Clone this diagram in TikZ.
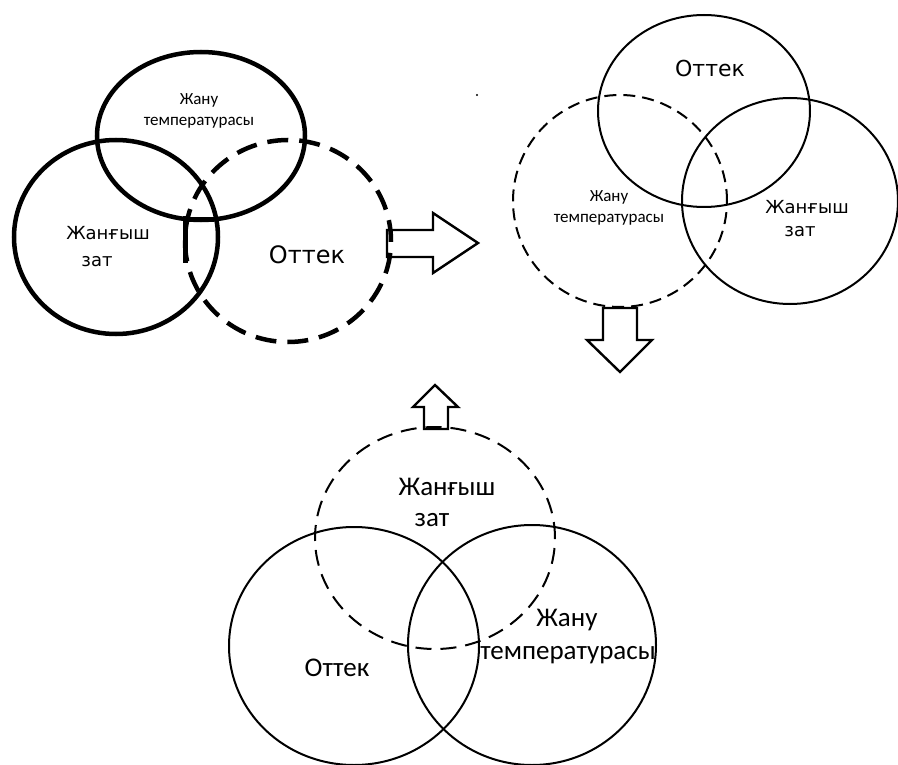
\documentclass[tikz,border=0pt]{standalone}
\usepackage{fontspec}
\setmainfont{Carlito}
\newfontfamily\widefont{DejaVu Sans}
\usetikzlibrary{shapes.geometric}
\tikzset{
  vennthick/.style={
    ellipse,
    draw=black,
    line width=4.5pt,
    inner sep=0pt
  },
  vennthin/.style={
    ellipse,
    draw=black,
    line width=2pt,
    inner sep=0pt
  },
  blockarrow/.style={
    draw=black,
    line width=2.4pt,
    line join=miter
  },
  smalltext/.style={align=center, inner sep=0pt, font=\fontsize{17}{21}\selectfont},
  widetext/.style={inner sep=0pt, font=\widefont\fontsize{18}{22}\selectfont},
  bigtext/.style={inner sep=0pt, font=\fontsize{27}{33}\selectfont}
}

\begin{document}
\begin{tikzpicture}[x=1pt, y=-1pt]
\useasboundingbox (0,0) rectangle (898,765);

% first picture: thick lines
\node[vennthick, minimum width=208pt, minimum height=168pt] (tlHeat) at (201,136) {};
\node[vennthick, minimum width=204pt, minimum height=194pt] (tlFuel) at (116,237) {};
\node[vennthick, minimum width=206pt, minimum height=202pt, dash pattern=on 21pt off 11pt] (tlOxy) at (288,241) {};
\draw[line width=5pt] (183,220) -- (214,220);
\draw[line width=5pt] (185,216) -- (185,263);
\node[smalltext] (tlHeatTxt) at (199,111) {Жану\\температурасы};
\node[widetext] (tlFuelTxt) at (108,233) {Жанғыш};
\node[widetext] (tlFuelTxtB) at (97,262) {зат};
\node[widetext, font=\widefont\fontsize{24}{28}\selectfont] (tlOxyTxt) at (307,255) {Оттек};

\draw[blockarrow] (387,230) -- (433,230) -- (433,213) -- (478,243) -- (433,273) -- (433,257) -- (387,257) -- cycle;
\fill (477,95) circle (1.2pt);

% second picture: thin lines
\node[vennthin, minimum width=212pt, minimum height=192pt] (trOxy) at (704,111) {};
\node[vennthin, minimum width=214pt, minimum height=212pt, dash pattern=on 12pt off 7pt] (trHeat) at (620,201) {};
\node[vennthin, minimum width=216pt, minimum height=206pt] (trFuel) at (790,201) {};
\node[widetext, font=\widefont\fontsize{22}{26}\selectfont] (trOxyTxt) at (710,68) {Оттек};
\node[smalltext] (trHeatTxt) at (609,208) {Жану\\температурасы};
\node[widetext] (trFuelTxt) at (807,207) {Жанғыш};
\node[widetext] (trFuelTxtB) at (800,232) {зат};

\draw[blockarrow] (603,308) -- (637,308) -- (637,340) -- (652,340) -- (620,372) -- (587,340) -- (603,340) -- cycle;

% third picture
\node[vennthin, minimum width=240pt, minimum height=222pt, dash pattern=on 16pt off 9pt] (btFuel) at (435,538) {};
\node[vennthin, minimum width=250pt, minimum height=238pt] (btOxy) at (354,646) {};
\node[vennthin, minimum width=248pt, minimum height=240pt] (btHeat) at (532,645) {};
\node[bigtext] (btFuelTxt) at (447,487) {Жанғыш};
\node[bigtext] (btFuelTxtB) at (432,520) {зат};
\node[bigtext] (btOxyTxt) at (337,668) {Оттек};
\node[bigtext] (btHeatTxt) at (567,620) {Жану};
\node[bigtext] (btHeatTxtB) at (568,655) {температурасы};

\draw[blockarrow] (424,429) -- (424,407) -- (413,407) -- (435,385) -- (458,407) -- (448,407) -- (448,429) -- cycle;
\end{tikzpicture}
\end{document}
